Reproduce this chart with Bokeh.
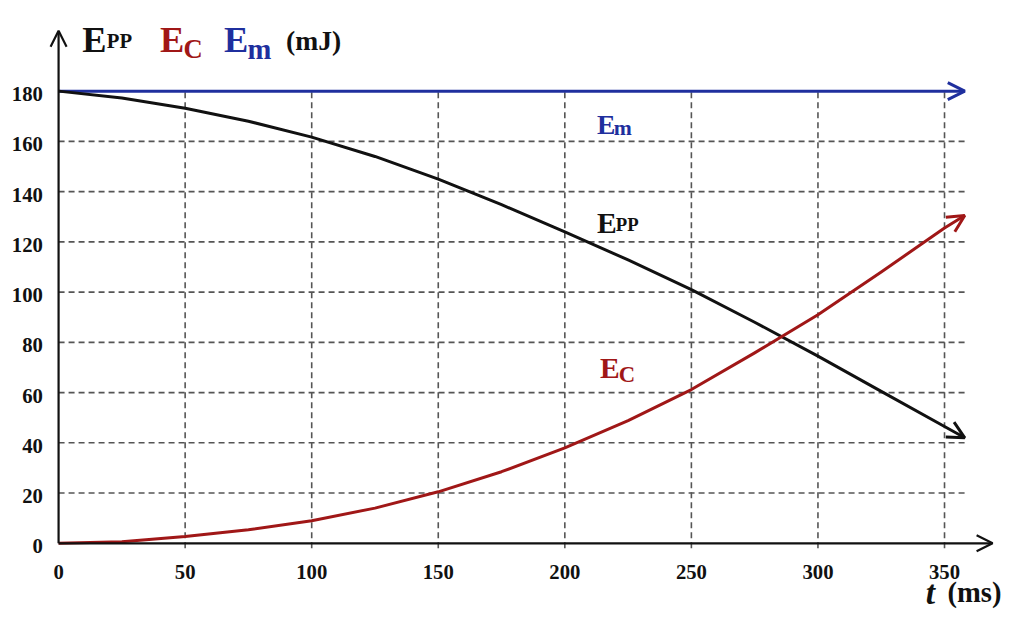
from bokeh.plotting import figure
from bokeh.models import Range1d, Arrow, OpenHead
from bokeh.core.properties import value
from bokeh.embed import file_html
from bokeh.resources import INLINE

# ---- data ----
t_ms = [0, 25, 50, 75, 100, 125, 150, 175, 200, 225, 250, 275, 300, 325, 350, 358]
e_pp = [180, 177.3, 173.2, 168, 161.7, 154, 145, 134.8, 124, 112.8, 101, 88, 74.5, 60.5, 46.5, 42]
e_c = [0, 0.6, 2.7, 5.4, 9.0, 14, 20.5, 28.5, 38, 48.8, 61.2, 75.8, 91, 108, 125.5, 130.5]
em_t = [0, 358]
e_m = [180, 180]

x_ticks = [0, 50, 100, 150, 200, 250, 300, 350]
x_tick_labels = ["0", "50", "100", "150", "200", "250", "300", "350"]
y_ticks = [0, 20, 40, 60, 80, 100, 120, 140, 160, 180]
y_tick_labels = ["0", "20", "40", "60", "80", "100", "120", "140", "160", "180"]
grid_x_end = 358
grid_y_end = 180
x_axis_end = 369
y_axis_end = 204

# ---- colours / fonts ----
BLUE = "#1f2f9e"
RED = "#a01717"
BLACK = "#111111"
GRID = "#555555"
FONT = value("Liberation Serif")

W, H = 1008, 612
FX, FY = W / 1024.0, H / 628.0     # fit the 1024x628 layout into the canvas
SX = 900 * FX / 350.0              # px per ms
SY = 464 * FY / 180.0              # px per mJ
X0, Y0 = 59 * FX, 557 * FY         # canvas px of the origin


def dx(px):  # layout px -> data x
    return (px * FX - X0) / SX


def dy(py):  # layout px -> data y
    return (Y0 - py * FY) / SY


def fs(size):
    return f"{size * 0.985:.1f}px"


p = figure(width=W, height=H,
           x_range=Range1d(-X0 / SX, (W - X0) / SX),
           y_range=Range1d(-(H - Y0) / SY, Y0 / SY),
           x_axis_type=None, y_axis_type=None,
           output_backend="svg", toolbar_location=None,
           min_border=0, outline_line_color=None)
p.background_fill_color = "white"
p.border_fill_color = "white"

# grid (dashed)
p.segment(x0=x_ticks[1:], y0=[-2] * (len(x_ticks) - 1), x1=x_ticks[1:], y1=[grid_y_end] * (len(x_ticks) - 1),
          line_color=GRID, line_width=1.6, line_dash="6 4")
p.segment(x0=[0] * (len(y_ticks) - 2), y0=y_ticks[1:-1], x1=[grid_x_end] * (len(y_ticks) - 2), y1=y_ticks[1:-1],
          line_color=GRID, line_width=1.6, line_dash="6 4")

# axes with arrows
p.add_layout(Arrow(end=OpenHead(size=16, line_width=2.2, line_color=BLACK),
                   x_start=0, y_start=0, x_end=x_axis_end, y_end=0,
                   line_width=2.2, line_color=BLACK))
p.add_layout(Arrow(end=OpenHead(size=16, line_width=2.2, line_color=BLACK),
                   x_start=0, y_start=0, x_end=0, y_end=y_axis_end,
                   line_width=2.2, line_color=BLACK))

# curves
p.line(em_t, e_m, line_color=BLUE, line_width=3)
p.line(t_ms, e_pp, line_color=BLACK, line_width=3, line_join="round")
p.line(t_ms, e_c, line_color=RED, line_width=3, line_join="round")

for xs, ys, col in ((em_t, e_m, BLUE), (t_ms, e_pp, BLACK), (t_ms, e_c, RED)):
    p.add_layout(Arrow(end=OpenHead(size=17, line_width=3, line_color=col),
                       x_start=xs[-2], y_start=ys[-2], x_end=xs[-1], y_end=ys[-1],
                       line_width=0.01, line_alpha=0))

# tick labels
p.text(x=x_ticks, y=[dy(586)] * len(x_ticks), text=x_tick_labels,
       text_font=FONT, text_font_style="bold", text_font_size=fs(21),
       text_align="center", text_baseline="alphabetic", text_color=BLACK)
p.text(x=[dx(43)] * len(y_ticks), y=y_ticks, text=y_tick_labels,
       text_font=FONT, text_font_style="bold", text_font_size=fs(21),
       text_align="right", text_baseline="middle", text_color=BLACK, y_offset=3)

# text pieces: (text, x px, baseline px, size, colour, style)
pieces = [
    ("E", 83, 41, 37, BLACK, "bold"),
    ("PP", 108, 42, 21, BLACK, "bold"),
    ("E", 162, 41, 37, RED, "bold"),
    ("C", 186, 50, 27, RED, "bold"),
    ("E", 227, 41, 37, BLUE, "bold"),
    ("m", 251, 50, 29, BLUE, "bold"),
    ("(mJ)", 290, 41, 28, BLACK, "bold"),
    ("E", 606, 127, 28, BLUE, "bold"),
    ("m", 623, 131, 22, BLUE, "bold"),
    ("E", 606, 228, 30, BLACK, "bold"),
    ("PP", 625, 230, 19, BLACK, "bold"),
    ("E", 609, 377, 30, RED, "bold"),
    ("C", 628, 384, 23, RED, "bold"),
    ("t", 940, 607, 34, BLACK, "bold italic"),
    ("(ms)", 962, 607, 29, BLACK, "bold"),
]
for txt, px, py, size, col, style in pieces:
    p.text(x=[dx(px)], y=[dy(py)], text=[txt], text_font=FONT, text_font_style=style,
           text_font_size=fs(size), text_align="left", text_baseline="alphabetic",
           text_color=col)

open("out.html", "w").write(file_html(p, INLINE))
